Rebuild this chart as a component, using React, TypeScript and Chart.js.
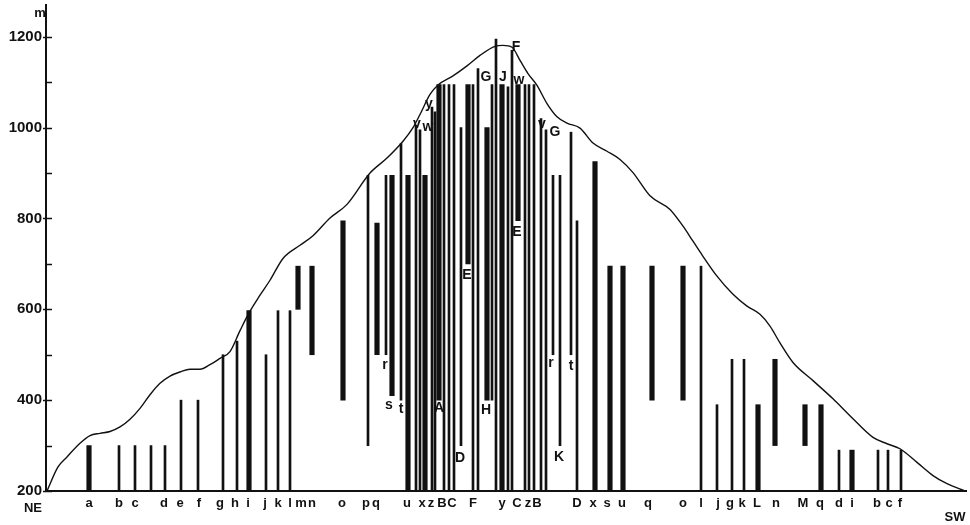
import React, { useEffect, useRef } from "react";
import { Chart, registerables } from "chart.js";

Chart.register(...registerables);

// Mountain profile (NE -> SW), x position along transect, altitude in m
const profileX = [47, 58, 67, 80, 90, 100, 110, 120, 130, 140, 150, 160, 170, 180, 190, 200, 210, 220, 230, 240, 249, 260, 270, 283, 300, 313, 330, 347, 370, 387, 403, 413, 420, 430, 438, 453, 467, 480, 495, 503, 512, 520, 528, 537, 547, 557, 567, 580, 593, 607, 620, 633, 650, 670, 683, 693, 702, 717, 733, 747, 760, 770, 780, 793, 813, 833, 853, 873, 887, 900, 917, 933, 947, 965];
const profileAlt = [200, 253, 275, 305, 322, 327, 331, 341, 358, 382, 412, 437, 453, 462, 468, 468, 478, 492, 507, 553, 592, 631, 664, 712, 741, 762, 801, 831, 900, 933, 970, 1000, 1029, 1073, 1094, 1114, 1136, 1159, 1179, 1181, 1177, 1148, 1119, 1093, 1053, 1024, 1010, 999, 966, 948, 930, 901, 850, 820, 783, 750, 720, 673, 633, 607, 589, 563, 526, 483, 443, 403, 359, 318, 304, 293, 263, 234, 216, 200];

// Altitudinal ranges of species (bars)
const barNames = ["a", "b", "c", "", "d", "e", "f", "g", "h", "i", "j", "k", "l", "m", "n", "o", "p", "q", "r", "s", "t", "u", "v", "w", "x", "y", "z", "A", "B", "C", "", "D", "E", "F", "G", "H", "", "I", "J", "", "F", "E", "C", "z", "", "v", "G", "r", "K", "t", "D", "x", "s", "u", "q", "o", "l", "j", "g", "k", "L", "n", "M", "q", "d", "i", "b", "c", "f"];
const barX = [89, 119, 135, 151, 165, 181, 198, 223, 237, 249, 266, 278, 290, 298, 312, 343, 368, 377, 386, 392, 401, 408, 416, 420, 425, 432, 435, 439, 444, 449, 454, 461, 468, 473, 478, 487, 492, 496, 502, 508, 512, 518, 525, 529, 534, 541, 546, 553, 560, 571, 577, 595, 610, 623, 652, 683, 701, 717, 732, 744, 758, 775, 805, 821, 839, 852, 878, 888, 901];
const barLow = [200, 200, 200, 200, 200, 200, 200, 200, 200, 200, 200, 200, 200, 600, 500, 400, 300, 500, 500, 410, 400, 200, 200, 200, 200, 200, 200, 400, 200, 200, 200, 300, 700, 200, 200, 400, 400, 200, 200, 200, 200, 795, 200, 200, 200, 200, 200, 500, 300, 500, 200, 200, 200, 200, 400, 400, 200, 200, 200, 200, 200, 300, 300, 200, 200, 200, 200, 200, 200];
const barHigh = [300, 300, 300, 300, 300, 400, 400, 500, 530, 597, 500, 597, 597, 695, 695, 795, 895, 790, 895, 895, 965, 895, 1005, 995, 895, 1045, 1035, 1095, 1095, 1095, 1095, 1000, 1095, 1095, 1130, 1000, 1095, 1195, 1095, 1090, 1170, 1095, 1095, 1095, 1095, 1020, 995, 895, 895, 990, 795, 925, 695, 695, 695, 695, 695, 390, 490, 490, 390, 490, 390, 390, 290, 290, 290, 290, 290];
const barThick = [1, 0, 0, 0, 0, 0, 0, 0, 0, 1, 0, 0, 0, 1, 1, 1, 0, 1, 0, 1, 0, 1, 0, 0, 1, 0, 0, 1, 0, 0, 0, 0, 1, 0, 0, 1, 0, 0, 1, 0, 0, 1, 0, 0, 0, 0, 0, 0, 0, 0, 0, 1, 1, 1, 1, 1, 0, 0, 0, 0, 1, 1, 1, 1, 0, 1, 0, 0, 0];

// Letters written along the baseline
const baseLabels = ["a", "b", "c", "d", "e", "f", "g", "h", "i", "j", "k", "l", "m", "n", "o", "p", "q", "u", "x", "z", "B", "C", "F", "y", "C", "z", "B", "D", "x", "s", "u", "q", "o", "l", "j", "g", "k", "L", "n", "M", "q", "d", "i", "b", "c", "f"];
const baseLabelX = [89, 119, 135, 164, 180, 199, 220, 235, 248, 265, 278, 290, 301, 312, 342, 366, 376, 407, 422, 431, 442, 452, 473, 502, 517, 528, 537, 577, 593, 607, 622, 648, 683, 701, 718, 730, 742, 757, 776, 803, 820, 839, 852, 877, 889, 900];

// Letters written at bar ends
const annoText = ["y", "v", "w", "G", "J", "w", "F", "v", "G", "E", "E", "A", "H", "D", "K", "s", "t", "r", "r", "t"];
const annoX = [429, 417, 428, 486, 503, 519, 516, 542, 555, 467, 517, 439, 486, 460, 559, 389, 401, 385, 551, 571];
const annoAlt = [1051, 1007, 1000, 1111, 1111, 1105, 1177, 1008, 991, 675, 770, 382, 379, 272, 274, 388, 381, 478, 481, 474];

const yTicks = [200, 300, 400, 500, 600, 700, 800, 900, 1000, 1100, 1200];

const INK = "#111";
const FONT = "'Liberation Sans', Arial, sans-serif";

export default function App() {
  const ref = useRef<HTMLCanvasElement | null>(null);

  useEffect(() => {
    if (!ref.current) return;
    const mk = (flag: number) =>
      barX
        .map((x, i) => ({ x, y: [barLow[i], barHigh[i]], t: barThick[i] }))
        .filter((d) => d.t === flag)
        .map((d) => ({ x: d.x, y: d.y }));

    const decor = {
      id: "decor",
      afterDatasetsDraw(chart: any) {
        const { ctx, chartArea, scales } = chart;
        const xs = scales.x;
        const ys = scales.y;
        ctx.save();
        // inward tick marks on the altitude axis
        ctx.strokeStyle = INK;
        ctx.lineWidth = 1.5;
        yTicks.forEach((v) => {
          const py = Math.round(ys.getPixelForValue(v)) + 0.5;
          ctx.beginPath();
          ctx.moveTo(chartArea.left - (v % 200 === 0 ? 3 : 0), py);
          ctx.lineTo(chartArea.left + 6, py);
          ctx.stroke();
        });
        ctx.fillStyle = INK;
        ctx.textAlign = "center";
        ctx.textBaseline = "middle";
        ctx.font = `bold 14px ${FONT}`;
        annoText.forEach((t, i) => {
          ctx.fillText(t, xs.getPixelForValue(annoX[i]), ys.getPixelForValue(annoAlt[i]));
        });
        ctx.font = `bold 13px ${FONT}`;
        ctx.fillText("m", chartArea.left - 6, chartArea.top + 8);
        ctx.fillText("NE", chartArea.left - 13, chartArea.bottom + 17);
        ctx.fillText("SW", chartArea.right - 11, chartArea.bottom + 26);
        ctx.restore();
      },
    };

    const chart = new Chart(ref.current, {
      type: "bar",
      data: {
        datasets: [
          {
            type: "line",
            data: profileX.map((x, i) => ({ x, y: profileAlt[i] })),
            borderColor: INK,
            borderWidth: 1.4,
            pointRadius: 0,
            fill: false,
            cubicInterpolationMode: "monotone",
            order: 0,
          } as any,
          {
            data: mk(1) as any,
            backgroundColor: INK,
            barThickness: 4.5,
            grouped: false,
            order: 1,
          } as any,
          {
            data: mk(0) as any,
            backgroundColor: INK,
            barThickness: 2,
            grouped: false,
            order: 1,
          } as any,
        ],
      },
      options: {
        responsive: false,
        animation: false,
        events: [],
        layout: { padding: { top: 5, right: 4, left: 0, bottom: 0 } },
        plugins: { legend: { display: false }, tooltip: { enabled: false } },
        scales: {
          x: {
            type: "linear",
            min: 46,
            max: 966,
            offset: false,
            grid: { display: false, drawTicks: false },
            border: { display: true, color: INK, width: 2 },
            afterBuildTicks: (s: any) => {
              s.ticks = baseLabelX.map((v) => ({ value: v }));
            },
            afterFit: (s: any) => {
              s.height = 34;
              s.paddingLeft = 0;
              s.paddingRight = 0;
            },
            ticks: {
              autoSkip: false,
              maxRotation: 0,
              minRotation: 0,
              padding: 5,
              color: INK,
              font: { family: FONT, size: 13, weight: "bold" },
              callback: (_v: any, i: number) => baseLabels[i],
            },
          },
          y: {
            min: 200,
            max: 1270,
            grid: { display: false, drawTicks: false },
            border: { display: true, color: INK, width: 2 },
            afterBuildTicks: (s: any) => {
              s.ticks = yTicks.map((v) => ({ value: v }));
            },
            afterFit: (s: any) => {
              s.width = 46;
              s.paddingTop = 0;
              s.paddingBottom = 0;
            },
            ticks: {
              padding: 4,
              color: INK,
              font: { family: FONT, size: 15, weight: "bold" },
              callback: (v: any) => (Number(v) % 200 === 0 ? String(v) : ""),
            },
          },
        },
      } as any,
      plugins: [decor],
    });
    return () => chart.destroy();
  }, []);

  return (
    <div style={{ position: "fixed", left: 0, top: 0, width: 970, height: 525, background: "#fff" }}>
      <canvas ref={ref} width={970} height={525} />
    </div>
  );
}
